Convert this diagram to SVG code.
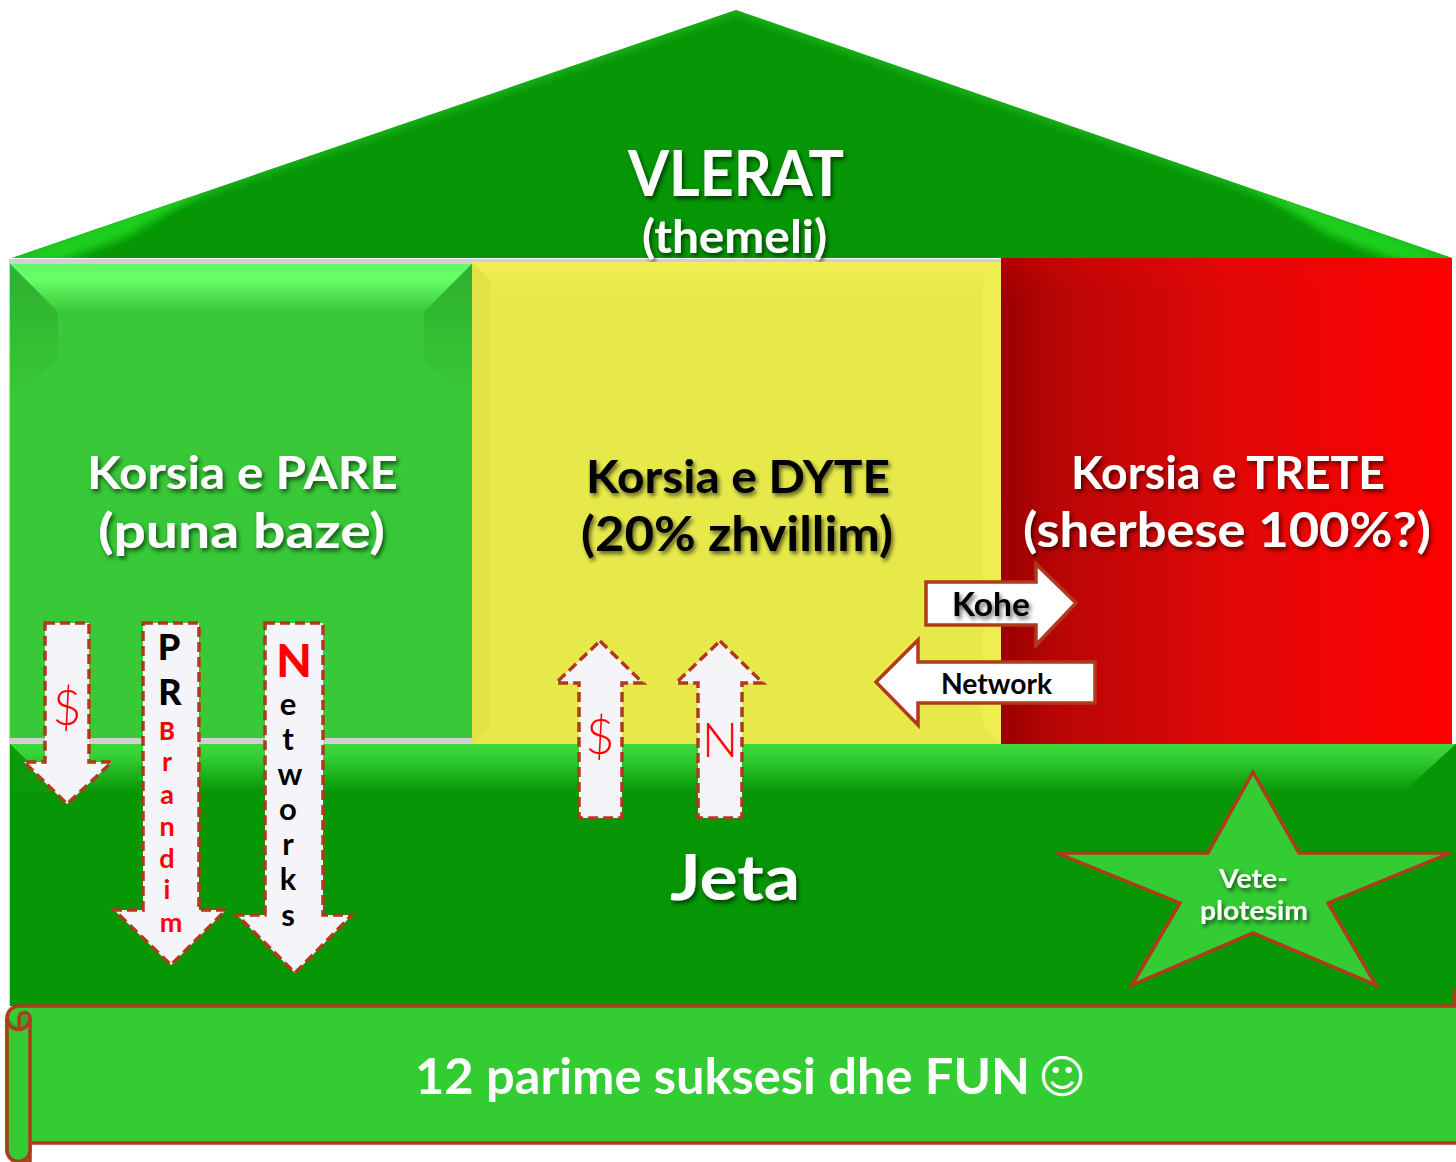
<svg xmlns="http://www.w3.org/2000/svg" width="1456" height="1162" viewBox="0 0 1456 1162">
<style>
text{font-family:"Lato","Liberation Sans",sans-serif;font-weight:700;text-anchor:middle}
.w{fill:#fff}.k{fill:#000}.r{fill:#f00}
.sh{filter:url(#shadow)}
.dash{fill:#f5f5f9;stroke:#b03a1c;stroke-width:3.5;stroke-dasharray:10 5}
.solid{fill:#fff;stroke:#b03a1c;stroke-width:3.5}
.thin{font-weight:300}
.heavy{font-weight:900}
.rb{fill:#33cc33;stroke:#b03a1c;stroke-width:3.5}
.soft{filter:url(#blur)}
</style>
<defs>
<filter id="shadow" x="-10%" y="-20%" width="120%" height="150%"><feDropShadow dx="2" dy="3" stdDeviation="2" flood-color="#000" flood-opacity=".6"/></filter>
<filter id="blur" x="-20%" y="-20%" width="140%" height="140%"><feGaussianBlur stdDeviation="4"/></filter>
<clipPath id="roofClip"><polygon points="736,10 12,258 1452,258"/></clipPath>
<linearGradient id="redG" x1="0" x2="1" y1="0" y2="0"><stop offset="0" stop-color="#9a0000"/><stop offset=".12" stop-color="#b80505"/><stop offset=".5" stop-color="#e00808"/><stop offset="1" stop-color="#ff0000"/></linearGradient>
<linearGradient id="gTop" x1="0" x2="0" y1="0" y2="1"><stop offset="0" stop-color="#66f566"/><stop offset=".3" stop-color="#68ff68"/><stop offset="1" stop-color="#38c838"/></linearGradient>
<linearGradient id="dTop" x1="0" x2="0" y1="0" y2="1"><stop offset="0" stop-color="#3cd93c"/><stop offset=".25" stop-color="#35d035"/><stop offset="1" stop-color="#069606"/></linearGradient>
<linearGradient id="yTop" x1="0" x2="0" y1="0" y2="1"><stop offset="0" stop-color="#f2ee55"/><stop offset="1" stop-color="#e7e94b"/></linearGradient>
<linearGradient id="rTop" x1="0" x2="0" y1="0" y2="1"><stop offset="0" stop-color="#ff0000" stop-opacity=".2"/><stop offset="1" stop-color="#ff0000" stop-opacity="0"/></linearGradient>
<linearGradient id="sideFade" x1="0" x2="0" y1="0" y2="1"><stop offset="0" stop-color="#2eb02e"/><stop offset="1" stop-color="#38c838"/></linearGradient>
</defs>
<rect width="1456" height="1162" fill="#fff"/>
<rect x="9" y="259" width="1443" height="747" fill="#d0d0d0"/>

<g id="roof">
<polygon points="736,10 12,258 1452,258" fill="#069606"/>
<g clip-path="url(#roofClip)">
<polygon class="soft" points="0,262 230,175 130,235 60,262" fill="#1fd01f"/>
<polygon class="soft" points="1460,262 1230,175 1330,235 1400,262" fill="#1fd01f"/>
<polyline class="soft" points="12,258 736,10 1452,258" fill="none" stroke="#28c828" stroke-width="5"/>
</g>
<text class="w sh" x="736" y="196" font-size="64" textLength="216" lengthAdjust="spacingAndGlyphs">VLERAT</text>
<text class="w sh" x="734.500" y="253" font-size="45" textLength="185" lengthAdjust="spacingAndGlyphs">(themeli)</text>
</g>

<g id="korsia-pare">
<rect x="10" y="264" width="462" height="474" fill="#38c838"/>
<polygon points="10,264 472,264 424,312 58,312" fill="url(#gTop)"/>
<polygon points="10,264 58,312 58,360 10,400" fill="url(#sideFade)"/>
<polygon points="472,264 424,312 424,360 472,400" fill="url(#sideFade)"/>
<text class="w sh" x="242.500" y="489" font-size="46" textLength="311" lengthAdjust="spacingAndGlyphs">Korsia e PARE</text>
<text class="w sh" x="241.500" y="548" font-size="48" textLength="287" lengthAdjust="spacingAndGlyphs">(puna baze)</text>
</g>

<g id="korsia-dyte">
<rect x="472" y="262" width="529" height="482" fill="#e7e94b"/>
<polygon points="472,262 1001,262 970,293 503,293" fill="url(#yTop)"/>
<polygon points="472,262 490,280 490,726 472,744" fill="#e2e249"/>
<polygon points="1001,262 983,280 983,726 1001,744" fill="#efee50"/>
<text class="k sh" x="738" y="493" font-size="46" textLength="304" lengthAdjust="spacingAndGlyphs">Korsia e DYTE</text>
<text class="k sh" x="737" y="551" font-size="48" textLength="312" lengthAdjust="spacingAndGlyphs">(20% zhvillim)</text>
</g>

<g id="korsia-trete">
<rect x="1001" y="258" width="451" height="486" fill="url(#redG)"/>
<rect x="1001" y="258" width="451" height="36" fill="url(#rTop)"/>
<text class="w sh" x="1228" y="489" font-size="46" textLength="314" lengthAdjust="spacingAndGlyphs">Korsia e TRETE</text>
<text class="w sh" x="1227" y="547" font-size="48" textLength="408" lengthAdjust="spacingAndGlyphs">(sherbese 100%?)</text>
</g>

<g id="jeta">
<rect x="10" y="744" width="1446" height="262" fill="#069606"/>
<polygon points="10,744 1456,744 1404,792 58,792" fill="url(#dTop)"/>
<polygon points="1456,744 1404,792 1456,792" fill="#069606"/>
<polygon points="10,744 58,792 10,792" fill="#0a9a0a"/>
<text class="w sh" x="735" y="900" font-size="63" textLength="130" lengthAdjust="spacingAndGlyphs">Jeta</text>
</g>

<g id="veteplotesim">
<polygon class="rb" points="1253,772 1299,853 1450,853 1328,903 1376,985 1253,933 1132,985 1180,903 1057,853 1208,853"/>
<text class="w sh" x="1253.500" y="888" font-size="27" textLength="69" lengthAdjust="spacingAndGlyphs">Vete-</text>
<text class="w sh" x="1254" y="920" font-size="27" textLength="108" lengthAdjust="spacingAndGlyphs">plotesim</text>
</g>

<g id="parime">
<path class="rb" d="M1458,1006H19A12,12 0 0 0 7,1018V1150A12,12 0 0 0 19,1162H30V1143H1458Z"/>
<path class="rb" d="M7,1018V1150A11,11 0 0 0 30,1150V1018"/>
<path d="M7,1018A11.500,11.500 0 0 0 30,1018A5.500,5.500 0 0 0 19,1018V1028" fill="#2fa82f" stroke="#b03a1c" stroke-width="3.500"/>
<path d="M1454,1005V994A6,6 0 0 1 1458,988" fill="none" stroke="#b03a1c" stroke-width="3"/>
<text class="w" x="722.500" y="1094" font-size="49" textLength="615" lengthAdjust="spacingAndGlyphs">12 parime suksesi dhe FUN</text>
<text class="w" x="1062" y="1093" font-size="46" style="font-family:'DejaVu Sans',sans-serif;font-weight:400">☺</text>
</g>

<g id="connectors">
<g id="arrow-dollar-down">
<polygon class="dash" points="45,623 89,623 89,762 112,762 67,804 24,762 45,762"/>
<text class="r thin" x="67" y="725" font-size="50">$</text>
</g>
<g id="arrow-prbrandim">
<polygon class="dash" points="143,623 199,623 199,910 226,910 171,965 114,910 143,910"/>
<text class="k heavy" x="169" y="660" font-size="36">P</text>
<text class="k heavy" x="170" y="705" font-size="36">R</text>
<g class="r">
<text x="167" y="740" font-size="24" class="heavy">B</text>
<text x="167" y="771" font-size="27">r</text>
<text x="167" y="804" font-size="27">a</text>
<text x="167" y="836" font-size="27">n</text>
<text x="167" y="868" font-size="27">d</text>
<text x="167" y="899" font-size="27">i</text>
<text x="171" y="932" font-size="27">m</text>
</g>
</g>
<g id="arrow-networks">
<polygon class="dash" points="265,623 323,623 323,915 352,915 295,973 237,915 265,915"/>
<text class="r heavy" x="294" y="677" font-size="46">N</text>
<g class="k">
<text x="288" y="715" font-size="31">e</text>
<text x="288" y="750" font-size="31">t</text>
<text x="290" y="785" font-size="31">w</text>
<text x="288" y="820" font-size="31">o</text>
<text x="288" y="855" font-size="31">r</text>
<text x="288" y="890" font-size="31">k</text>
<text x="288" y="926" font-size="31">s</text>
</g>
</g>
<g id="arrow-dollar-up">
<polygon class="dash" points="600,641 643,683 622,683 622,818 579,818 579,683 556,683"/>
<text class="r thin" x="600" y="754" font-size="50">$</text>
</g>
<g id="arrow-n-up">
<polygon class="dash" points="720,641 763,683 742,683 742,818 698,818 698,683 676,683"/>
<text class="r thin" x="720" y="757" font-size="48">N</text>
</g>
<g id="arrow-kohe">
<polygon class="solid" points="926,582 1036,582 1036,564 1076,603 1036,645 1036,625 926,625"/>
<text class="k sh" x="991" y="616" font-size="32" textLength="78" lengthAdjust="spacingAndGlyphs">Kohe</text>
</g>
<g id="arrow-network">
<polygon class="solid" points="876,682 918,640 918,662 1095,662 1095,703 918,703 918,725"/>
<text class="k" x="996.500" y="694" font-size="29" textLength="111" lengthAdjust="spacingAndGlyphs">Network</text>
</g>
</g>
</svg>
